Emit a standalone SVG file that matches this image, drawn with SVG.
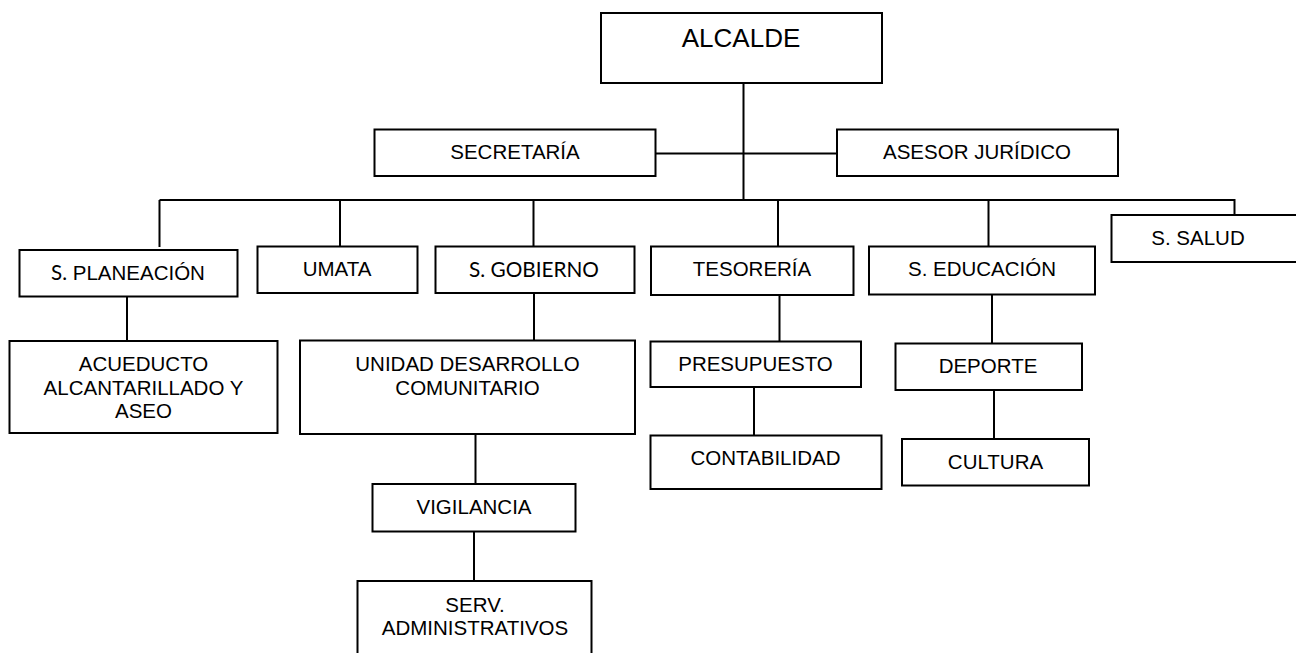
<svg xmlns="http://www.w3.org/2000/svg" width="1296" height="653" viewBox="0 0 1296 653">
<style>
.box{fill:#fff;stroke:#000;stroke-width:2}
.ln{fill:none;stroke:#000;stroke-width:2}
text{font-family:"Liberation Sans",Arial,sans-serif;font-size:20.5px;fill:#000;text-anchor:middle}
.big{font-size:26px}
.goth{font-family:Lato,"DejaVu Sans",sans-serif;font-weight:normal}
</style>
<rect width="1296" height="653" fill="#fff"/>
<g id="connectors">
<path class="ln" d="M743.5 83V200M655 153.5H837M159.5 200H1234.5"/>
<path class="ln" d="M159.5 200V247M340 200V246.5M533.5 200V246.5M778 200V246.5M988.5 200V246.5M1234.5 199V215"/>
<path class="ln" d="M127 297V341M534 293V340.5M779.5 295V341.5M992 294.5V343.5M754 387V435.5M994 390V439M475.5 434V484M474 531.5V581"/>
</g>
<g id="alcalde"><rect class="box" x="601" y="13" width="281" height="70"/><text class="big" x="741" y="47">ALCALDE</text></g>
<g id="secretaria"><rect class="box" x="374.5" y="129.5" width="281" height="46.5"/><text x="515" y="159">SECRETARÍA</text></g>
<g id="asesor"><rect class="box" x="837" y="129.5" width="281" height="46.5"/><text x="977" y="159">ASESOR JURÍDICO</text></g>
<g id="planeacion"><rect class="box" x="19.5" y="250" width="218" height="46.5"/><text x="128" y="280"><tspan class="goth">S.</tspan> PLANEACIÓN</text></g>
<g id="umata"><rect class="box" x="257.5" y="246.5" width="160" height="46.5"/><text x="337" y="276">UMATA</text></g>
<g id="gobierno"><rect class="box" x="435.5" y="246.5" width="199" height="46.5"/><text class="goth" x="534" y="277" font-size="20" textLength="130" lengthAdjust="spacingAndGlyphs">S. GOBIERNO</text></g>
<g id="tesoreria"><rect class="box" x="651" y="246.5" width="202.5" height="48.5"/><text x="752" y="276">TESORERÍA</text></g>
<g id="educacion"><rect class="box" x="869" y="246.5" width="226" height="48"/><text x="982" y="276">S. EDUCACIÓN</text></g>
<g id="salud"><rect class="box" x="1111.5" y="215" width="200" height="47"/><text x="1198" y="245">S. SALUD</text></g>
<g id="acueducto"><rect class="box" x="9.5" y="341" width="268" height="92"/><text x="143.5" y="371">ACUEDUCTO</text><text x="143.5" y="394.5">ALCANTARILLADO Y</text><text x="143.5" y="418">ASEO</text></g>
<g id="unidad"><rect class="box" x="300" y="340.5" width="335" height="93.5"/><text x="467.5" y="371">UNIDAD DESARROLLO</text><text x="467.5" y="395">COMUNITARIO</text></g>
<g id="vigilancia"><rect class="box" x="372.5" y="484" width="203" height="47.5"/><text x="474" y="513.5">VIGILANCIA</text></g>
<g id="serv"><rect class="box" x="357.5" y="581" width="234" height="90"/><text x="475" y="612">SERV.</text><text x="475" y="635">ADMINISTRATIVOS</text></g>
<g id="presupuesto"><rect class="box" x="650.5" y="341.5" width="210.5" height="45.5"/><text x="755.5" y="371">PRESUPUESTO</text></g>
<g id="contabilidad"><rect class="box" x="650.5" y="435.5" width="231" height="53.5"/><text x="765.5" y="465">CONTABILIDAD</text></g>
<g id="deporte"><rect class="box" x="895.5" y="343.5" width="186.5" height="46.5"/><text x="988" y="373">DEPORTE</text></g>
<g id="cultura"><rect class="box" x="902" y="439" width="187" height="46.5"/><text x="995.5" y="468.5">CULTURA</text></g>
</svg>
